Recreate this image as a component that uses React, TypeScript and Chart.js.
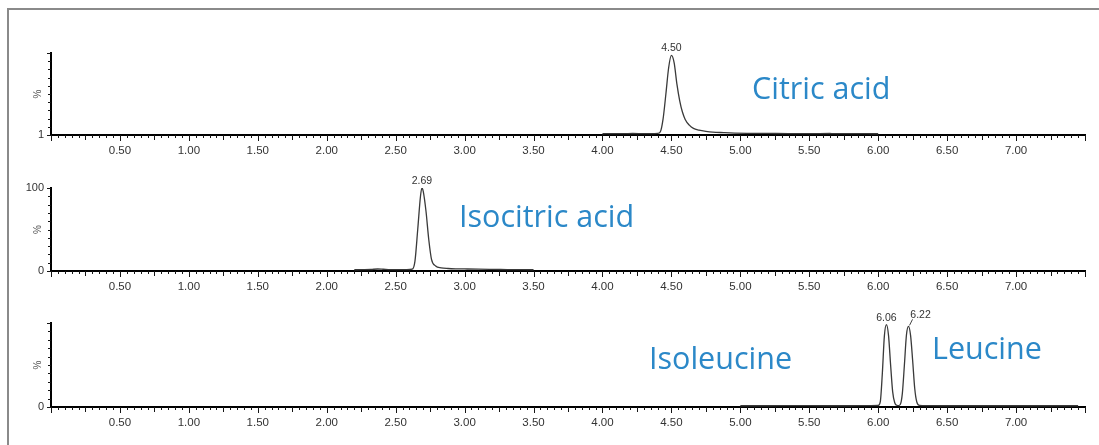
import React, { useEffect, useRef } from 'react';
import { Chart, registerables } from 'chart.js';

Chart.register(...registerables);

// ---------- data ----------
const citricTimes = [4.0, 4.08, 4.15, 4.22, 4.3, 4.36, 4.4, 4.42, 4.44, 4.46, 4.48, 4.5, 4.52, 4.54, 4.56, 4.58, 4.6, 4.63, 4.66, 4.7, 4.75, 4.8, 4.88, 4.96, 5.05, 5.2, 5.35, 5.5, 5.65, 5.8, 5.92, 6.0];
const citricValues = [1.5, 1.7, 1.6, 1.8, 1.7, 1.7, 2.0, 4, 20, 50, 82, 97, 88, 62, 42, 28, 19, 12, 8, 6, 4.5, 3.5, 2.9, 2.4, 2.1, 1.9, 1.7, 1.6, 1.8, 1.7, 1.6, 1.5];

const isocitricTimes = [2.2, 2.26, 2.32, 2.37, 2.41, 2.46, 2.52, 2.58, 2.62, 2.64, 2.66, 2.68, 2.69, 2.7, 2.72, 2.74, 2.76, 2.79, 2.83, 2.88, 2.95, 3.02, 3.1, 3.18, 3.26, 3.34, 3.42, 3.5];
const isocitricValues = [1.5, 1.6, 1.8, 2.4, 2.1, 1.7, 1.6, 1.6, 2.2, 12, 50, 90, 100, 96, 72, 38, 14, 6, 3.8, 3.0, 2.6, 2.4, 2.2, 2.0, 1.8, 1.7, 1.6, 1.5];

const leucineTimes = [5.0, 5.2, 5.4, 5.6, 5.8, 5.95, 6.0, 6.015, 6.03, 6.045, 6.06, 6.075, 6.09, 6.105, 6.12, 6.135, 6.145, 6.16, 6.175, 6.19, 6.205, 6.22, 6.235, 6.25, 6.265, 6.28, 6.3, 6.35, 6.5, 6.8, 7.1, 7.45];
const leucineValues = [1.5, 1.5, 1.6, 1.5, 1.5, 1.6, 1.8, 6, 40, 85, 98, 85, 50, 18, 5, 2, 1.6, 3, 16, 50, 86, 96, 85, 55, 22, 6, 2, 1.6, 1.5, 1.5, 1.5, 1.5];

const citricPeaks = [4.5];
const citricPeakLabels = ['4.50'];
const isocitricPeaks = [2.69];
const isocitricPeakLabels = ['2.69'];
const leucinePeaks = [6.06, 6.22];
const leucinePeakLabels = ['6.06', '6.22'];

const xMin = 0;
const xMax = 7.5;
const xLabelStep = 0.5;
const yMin = 0;
const yMax = 100;

const citricYTickLabels = ['1', ''];
const isocitricYTickLabels = ['0', '100'];
const leucineYTickLabels = ['0', ''];

const yAxisTitle = '%';
const compoundNames = ['Citric acid', 'Isocitric acid', 'Isoleucine', 'Leucine'];

// ---------- chart ----------
const FONT = '"Liberation Sans", Arial, sans-serif';

type PanelProps = {
  times: number[];
  values: number[];
  peaks: number[];
  peakLabels: string[];
  peakOffsets: number[];
  yLabels: string[];
  top: number;
  height: number;
  padTop: number;
};

function makeDecor(p: PanelProps) {
  return {
    id: 'decor',
    afterDraw(chart: any) {
      const { ctx, chartArea: ca } = chart;
      const xs = chart.scales.x;
      const ys = chart.scales.y;
      ctx.save();
      ctx.strokeStyle = '#151515';
      ctx.lineWidth = 1;
      ctx.beginPath();
      const nMinor = Math.round((xs.max - xs.min) / 0.05);
      for (let i = 0; i <= nMinor; i++) {
        const v = xs.min + i * 0.05;
        const px = Math.round(xs.getPixelForValue(v)) + 0.5;
        const len = i % 10 === 0 ? 6 : i % 5 === 0 ? 5 : 3;
        ctx.moveTo(px, ca.bottom);
        ctx.lineTo(px, ca.bottom + len);
      }
      for (let j = 0; j <= 10; j++) {
        const py = Math.round(ys.getPixelForValue(ys.min + ((ys.max - ys.min) * j) / 10)) + 0.5;
        const len = j === 10 || j === 0 ? 4 : 3;
        ctx.moveTo(ca.left - len, py);
        ctx.lineTo(ca.left, py);
      }
      ctx.stroke();

      // rotated % title
      ctx.save();
      ctx.fillStyle = '#555';
      ctx.font = `10px ${FONT}`;
      ctx.translate(ca.left - 13, (ca.top + ca.bottom) / 2);
      ctx.rotate(-Math.PI / 2);
      ctx.textAlign = 'center';
      ctx.textBaseline = 'middle';
      ctx.fillText(yAxisTitle, 0, 0);
      ctx.restore();

      // peak labels
      ctx.fillStyle = '#333';
      ctx.font = `10.5px ${FONT}`;
      ctx.textAlign = 'center';
      ctx.textBaseline = 'alphabetic';
      p.peaks.forEach((t, k) => {
        let idx = 0;
        let best = Infinity;
        p.times.forEach((tt, i) => {
          if (Math.abs(tt - t) < best) {
            best = Math.abs(tt - t);
            idx = i;
          }
        });
        const px = xs.getPixelForValue(t);
        const py = ys.getPixelForValue(p.values[idx]);
        const dx = p.peakOffsets[k] || 0;
        if (dx) {
          ctx.strokeStyle = '#444';
          ctx.beginPath();
          ctx.moveTo(px + 1, py - 1);
          ctx.lineTo(px + 4, py - 7);
          ctx.stroke();
          ctx.fillText(p.peakLabels[k], px + dx, py - 8);
        } else {
          ctx.fillText(p.peakLabels[k], px, py - 4);
        }
      });
      ctx.restore();
    },
  };
}

function Panel(p: PanelProps) {
  const ref = useRef<HTMLCanvasElement>(null);
  useEffect(() => {
    if (!ref.current) return;
    const chart = new Chart(ref.current, {
      type: 'line',
      data: {
        datasets: [
          {
            data: p.times.map((t, i) => ({ x: t, y: p.values[i] })),
            borderColor: '#3a3a3a',
            borderWidth: 1.3,
            pointRadius: 0,
            fill: false,
            cubicInterpolationMode: 'monotone',
          },
        ],
      },
      options: {
        responsive: false,
        animation: false,
        devicePixelRatio: 1,
        layout: { padding: { top: p.padTop, right: 14, left: 0, bottom: 0 } },
        plugins: { legend: { display: false }, tooltip: { enabled: false } },
        scales: {
          x: {
            type: 'linear',
            min: xMin,
            max: xMax,
            border: { display: true, color: '#000', width: 2 },
            grid: { display: false, drawTicks: false },
            ticks: {
              stepSize: xLabelStep,
              autoSkip: false,
              maxRotation: 0,
              padding: 9,
              color: '#333',
              font: { family: FONT, size: 11.5 },
              callback: (v: any) => (v > xMin + 1e-9 && v < xMax - 1e-9 ? Number(v).toFixed(2) : ''),
            },
            afterFit: (s: any) => {
              s.height = 30;
            },
          },
          y: {
            type: 'linear',
            min: yMin,
            max: yMax,
            border: { display: true, color: '#000', width: 2 },
            grid: { display: false, drawTicks: false },
            ticks: {
              stepSize: yMax - yMin,
              padding: 7,
              color: '#333',
              font: { family: FONT, size: 11 },
              callback: (v: any) => (v === yMin ? p.yLabels[0] : v === yMax ? p.yLabels[1] : ''),
            },
            afterFit: (s: any) => {
              s.width = 51;
            },
          },
        },
      },
      plugins: [makeDecor(p)],
    } as any);
    return () => chart.destroy();
  }, []);
  return (
    <canvas
      ref={ref}
      width={1099}
      height={p.height}
      style={{ position: 'absolute', left: 0, top: p.top, width: 1099, height: p.height }}
    />
  );
}

const nameStyle: React.CSSProperties = {
  position: 'absolute',
  fontFamily: '"Open Sans", sans-serif',
  fontSize: 30.5,
  lineHeight: '30.5px',
  color: '#2b88c8',
  whiteSpace: 'nowrap',
};

export default function App() {
  return (
    <div
      style={{
        position: 'fixed',
        left: 0,
        top: 0,
        width: 1099,
        height: 445,
        overflow: 'hidden',
        background: '#fff',
      }}
    >
      <div
        style={{
          position: 'absolute',
          left: 7,
          top: 8,
          width: 1300,
          height: 700,
          borderTop: '2px solid #8a8a8a',
          borderLeft: '2px solid #8a8a8a',
        }}
      />
      <Panel
        times={citricTimes}
        values={citricValues}
        peaks={citricPeaks}
        peakLabels={citricPeakLabels}
        peakOffsets={[0]}
        yLabels={citricYTickLabels}
        top={30}
        height={135}
        padTop={23}
      />
      <Panel
        times={isocitricTimes}
        values={isocitricValues}
        peaks={isocitricPeaks}
        peakLabels={isocitricPeakLabels}
        peakOffsets={[0]}
        yLabels={isocitricYTickLabels}
        top={165}
        height={136}
        padTop={23}
      />
      <Panel
        times={leucineTimes}
        values={leucineValues}
        peaks={leucinePeaks}
        peakLabels={leucinePeakLabels}
        peakOffsets={[0, 12]}
        yLabels={leucineYTickLabels}
        top={301}
        height={136}
        padTop={22}
      />
      <div style={{ ...nameStyle, left: 752, top: 72 }}>{compoundNames[0]}</div>
      <div style={{ ...nameStyle, left: 459, top: 200 }}>{compoundNames[1]}</div>
      <div style={{ ...nameStyle, left: 649, top: 342 }}>{compoundNames[2]}</div>
      <div style={{ ...nameStyle, left: 932, top: 332 }}>{compoundNames[3]}</div>
    </div>
  );
}
